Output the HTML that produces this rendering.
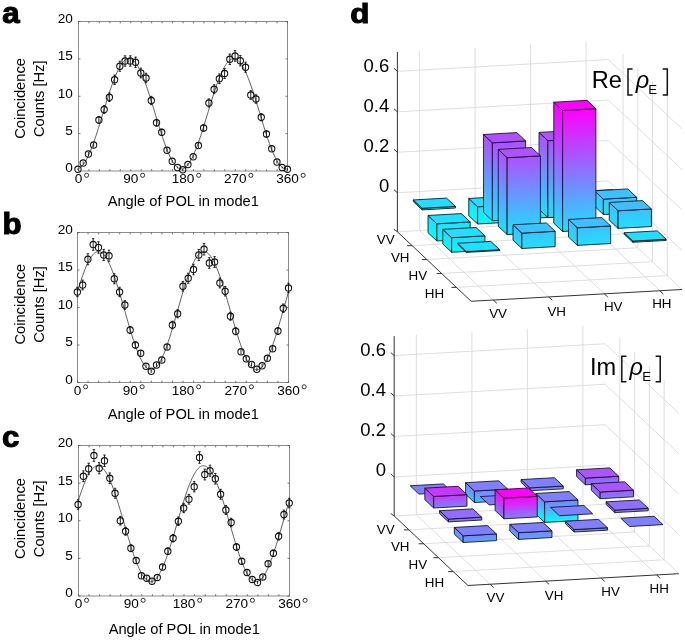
<!DOCTYPE html>
<html><head><meta charset="utf-8"><style>
html,body{margin:0;padding:0;background:#fff;}
svg{display:block;will-change:transform;}
text{font-family:"Liberation Sans", sans-serif;fill:#000;}
</style></head><body>
<svg width="685" height="640" viewBox="0 0 685 640">
<rect width="685" height="640" fill="#fff"/>
<rect x="78.5" y="21.5" width="209.00" height="149.50" fill="none" stroke="#8c8c8c" stroke-width="1.0"/>
<path d="M78.50,171.0v-1.8M78.50,21.5v1.8M88.95,171.0v-1.8M88.95,21.5v1.8M99.40,171.0v-1.8M99.40,21.5v1.8M109.85,171.0v-1.8M109.85,21.5v1.8M120.30,171.0v-1.8M120.30,21.5v1.8M130.75,171.0v-1.8M130.75,21.5v1.8M141.20,171.0v-1.8M141.20,21.5v1.8M151.65,171.0v-1.8M151.65,21.5v1.8M162.10,171.0v-1.8M162.10,21.5v1.8M172.55,171.0v-1.8M172.55,21.5v1.8M183.00,171.0v-1.8M183.00,21.5v1.8M193.45,171.0v-1.8M193.45,21.5v1.8M203.90,171.0v-1.8M203.90,21.5v1.8M214.35,171.0v-1.8M214.35,21.5v1.8M224.80,171.0v-1.8M224.80,21.5v1.8M235.25,171.0v-1.8M235.25,21.5v1.8M245.70,171.0v-1.8M245.70,21.5v1.8M256.15,171.0v-1.8M256.15,21.5v1.8M266.60,171.0v-1.8M266.60,21.5v1.8M277.05,171.0v-1.8M277.05,21.5v1.8M287.50,171.0v-1.8M287.50,21.5v1.8M78.5,171.00h2M287.5,171.00h-2M78.5,133.62h2M287.5,133.62h-2M78.5,96.25h2M287.5,96.25h-2M78.5,58.88h2M287.5,58.88h-2M78.5,21.50h2M287.5,21.50h-2" stroke="#505050" stroke-width="0.8" fill="none"/>
<polyline points="77.95,168.70 78.53,168.51 79.11,168.26 79.70,167.95 80.28,167.56 80.86,167.11 81.44,166.60 82.02,166.02 82.61,165.38 83.19,164.67 83.77,163.90 84.35,163.08 84.93,162.19 85.51,161.24 86.10,160.23 86.68,159.17 87.26,158.05 87.84,156.88 88.42,155.66 89.01,154.38 89.59,153.06 90.17,151.69 90.75,150.27 91.33,148.81 91.92,147.30 92.50,145.75 93.08,144.17 93.66,142.54 94.24,140.89 94.82,139.20 95.41,137.47 95.99,135.72 96.57,133.95 97.15,132.14 97.73,130.32 98.32,128.47 98.90,126.61 99.48,124.73 100.06,122.84 100.64,120.94 101.23,119.03 101.81,117.11 102.39,115.19 102.97,113.26 103.55,111.34 104.14,109.42 104.72,107.50 105.30,105.60 105.88,103.70 106.46,101.81 107.04,99.94 107.63,98.09 108.21,96.26 108.79,94.44 109.37,92.65 109.95,90.89 110.54,89.15 111.12,87.44 111.70,85.77 112.28,84.13 112.86,82.53 113.45,80.96 114.03,79.43 114.61,77.95 115.19,76.51 115.77,75.11 116.35,73.76 116.94,72.47 117.52,71.22 118.10,70.02 118.68,68.87 119.26,67.78 119.85,66.75 120.43,65.78 121.01,64.86 121.59,64.00 122.17,63.20 122.76,62.47 123.34,61.79 123.92,61.18 124.50,60.64 125.08,60.15 125.66,59.74 126.25,59.39 126.83,59.10 127.41,58.89 127.99,58.74 128.57,58.65 129.16,58.64 129.74,58.69 130.32,58.80 130.90,58.99 131.48,59.24 132.07,59.56 132.65,59.94 133.23,60.39 133.81,60.90 134.39,61.48 134.98,62.13 135.56,62.83 136.14,63.60 136.72,64.43 137.30,65.32 137.88,66.26 138.47,67.27 139.05,68.33 139.63,69.45 140.21,70.62 140.79,71.84 141.38,73.12 141.96,74.44 142.54,75.82 143.12,77.23 143.70,78.70 144.29,80.20 144.87,81.75 145.45,83.34 146.03,84.96 146.61,86.62 147.19,88.31 147.78,90.03 148.36,91.78 148.94,93.56 149.52,95.36 150.10,97.18 150.69,99.03 151.27,100.89 151.85,102.77 152.43,104.66 153.01,106.56 153.60,108.48 154.18,110.39 154.76,112.32 155.34,114.24 155.92,116.16 156.50,118.08 157.09,120.00 157.67,121.91 158.25,123.80 158.83,125.69 159.41,127.56 160.00,129.41 160.58,131.25 161.16,133.06 161.74,134.85 162.32,136.62 162.91,138.35 163.49,140.06 164.07,141.73 164.65,143.37 165.23,144.98 165.82,146.54 166.40,148.07 166.98,149.55 167.56,150.99 168.14,152.39 168.72,153.74 169.31,155.04 169.89,156.29 170.47,157.48 171.05,158.63 171.63,159.72 172.22,160.75 172.80,161.73 173.38,162.65 173.96,163.50 174.54,164.30 175.13,165.04 175.71,165.71 176.29,166.32 176.87,166.87 177.45,167.35 178.03,167.76 178.62,168.11 179.20,168.40 179.78,168.62 180.36,168.77 180.94,168.85 181.53,168.87 182.11,168.82 182.69,168.70 183.27,168.51 183.85,168.26 184.44,167.95 185.02,167.56 185.60,167.11 186.18,166.60 186.76,166.02 187.35,165.38 187.93,164.67 188.51,163.90 189.09,163.08 189.67,162.19 190.25,161.24 190.84,160.23 191.42,159.17 192.00,158.05 192.58,156.88 193.16,155.66 193.75,154.38 194.33,153.06 194.91,151.69 195.49,150.27 196.07,148.81 196.66,147.30 197.24,145.75 197.82,144.17 198.40,142.54 198.98,140.89 199.56,139.20 200.15,137.47 200.73,135.72 201.31,133.95 201.89,132.14 202.47,130.32 203.06,128.47 203.64,126.61 204.22,124.73 204.80,122.84 205.38,120.94 205.97,119.03 206.55,117.11 207.13,115.19 207.71,113.26 208.29,111.34 208.88,109.42 209.46,107.50 210.04,105.60 210.62,103.70 211.20,101.81 211.78,99.94 212.37,98.09 212.95,96.26 213.53,94.44 214.11,92.65 214.69,90.89 215.28,89.15 215.86,87.44 216.44,85.77 217.02,84.13 217.60,82.53 218.19,80.96 218.77,79.43 219.35,77.95 219.93,76.51 220.51,75.11 221.09,73.76 221.68,72.47 222.26,71.22 222.84,70.02 223.42,68.87 224.00,67.78 224.59,66.75 225.17,65.78 225.75,64.86 226.33,64.00 226.91,63.20 227.50,62.47 228.08,61.79 228.66,61.18 229.24,60.64 229.82,60.15 230.40,59.74 230.99,59.39 231.57,59.10 232.15,58.89 232.73,58.74 233.31,58.65 233.90,58.64 234.48,58.69 235.06,58.80 235.64,58.99 236.22,59.24 236.81,59.56 237.39,59.94 237.97,60.39 238.55,60.90 239.13,61.48 239.72,62.13 240.30,62.83 240.88,63.60 241.46,64.43 242.04,65.32 242.62,66.26 243.21,67.27 243.79,68.33 244.37,69.45 244.95,70.62 245.53,71.84 246.12,73.12 246.70,74.44 247.28,75.82 247.86,77.23 248.44,78.70 249.03,80.20 249.61,81.75 250.19,83.34 250.77,84.96 251.35,86.62 251.93,88.31 252.52,90.03 253.10,91.78 253.68,93.56 254.26,95.36 254.84,97.18 255.43,99.03 256.01,100.89 256.59,102.77 257.17,104.66 257.75,106.56 258.34,108.48 258.92,110.39 259.50,112.32 260.08,114.24 260.66,116.16 261.25,118.08 261.83,120.00 262.41,121.91 262.99,123.80 263.57,125.69 264.15,127.56 264.74,129.41 265.32,131.25 265.90,133.06 266.48,134.85 267.06,136.62 267.65,138.35 268.23,140.06 268.81,141.73 269.39,143.37 269.97,144.98 270.56,146.54 271.14,148.07 271.72,149.55 272.30,150.99 272.88,152.39 273.46,153.74 274.05,155.04 274.63,156.29 275.21,157.48 275.79,158.63 276.37,159.72 276.96,160.75 277.54,161.73 278.12,162.65 278.70,163.50 279.28,164.30 279.87,165.04 280.45,165.71 281.03,166.32 281.61,166.87 282.19,167.35 282.77,167.76 283.36,168.11 283.94,168.40 284.52,168.62 285.10,168.77 285.68,168.85 286.27,168.87 286.85,168.82 287.43,168.70" fill="none" stroke="#333" stroke-width="0.8"/>
<path d="M77.95,168.51V169.99M83.19,161.60V164.40M88.42,151.96V156.04M93.66,142.48V147.52M98.90,116.47V123.53M97.70,116.47h2.4M97.70,123.53h2.4M104.14,105.63V113.37M102.94,105.63h2.4M102.94,113.37h2.4M109.37,93.01V101.49M108.17,93.01h2.4M108.17,101.49h2.4M114.61,75.03V84.47M113.41,75.03h2.4M113.41,84.47h2.4M119.85,61.20V71.30M118.65,61.20h2.4M118.65,71.30h2.4M125.08,55.82V66.18M123.88,55.82h2.4M123.88,66.18h2.4M130.32,55.82V66.18M129.12,55.82h2.4M129.12,66.18h2.4M135.56,57.10V67.40M134.36,57.10h2.4M134.36,67.40h2.4M140.79,68.11V77.89M139.59,68.11h2.4M139.59,77.89h2.4M146.03,73.24V82.76M144.83,73.24h2.4M144.83,82.76h2.4M151.27,96.35V104.65M150.07,96.35h2.4M150.07,104.65h2.4M156.50,119.32V126.18M155.31,119.32h2.4M155.31,126.18h2.4M161.74,129.18V135.32M160.54,129.18h2.4M160.54,135.32h2.4M166.98,148.00V152.50M172.22,159.71V162.79M177.45,166.58V168.42M182.69,169.01V170.49M187.93,163.24V165.76M193.16,154.89V158.61M198.40,143.01V147.99M203.64,124.76V131.24M202.44,124.76h2.4M202.44,131.24h2.4M208.88,98.93V107.07M207.68,98.93h2.4M207.68,107.07h2.4M214.11,84.79V93.71M212.91,84.79h2.4M212.91,93.71h2.4M219.35,74.01V83.49M218.15,74.01h2.4M218.15,83.49h2.4M224.59,68.62V78.38M223.39,68.62h2.4M223.39,78.38h2.4M229.82,54.03V64.47M228.62,54.03h2.4M228.62,64.47h2.4M235.06,50.70V61.30M233.86,50.70h2.4M233.86,61.30h2.4M240.30,55.57V65.93M239.10,55.57h2.4M239.10,65.93h2.4M245.53,62.22V72.28M244.33,62.22h2.4M244.33,72.28h2.4M250.77,90.70V99.30M249.57,90.70h2.4M249.57,99.30h2.4M256.01,94.81V103.19M254.81,94.81h2.4M254.81,103.19h2.4M261.25,113.63V120.87M260.05,113.63h2.4M260.05,120.87h2.4M266.48,131.00V137.00M265.28,131.00h2.4M265.28,137.00h2.4M271.72,146.42V151.08M276.96,160.52V163.48M282.19,166.58V168.42M287.43,168.51V169.99" stroke="#111" stroke-width="0.9" fill="none"/>
<circle cx="77.95" cy="169.25" r="3.15" fill="none" stroke="#111" stroke-width="1.05"/>
<circle cx="83.19" cy="163.00" r="3.15" fill="none" stroke="#111" stroke-width="1.05"/>
<circle cx="88.42" cy="154.00" r="3.15" fill="none" stroke="#111" stroke-width="1.05"/>
<circle cx="93.66" cy="145.00" r="3.15" fill="none" stroke="#111" stroke-width="1.05"/>
<circle cx="98.90" cy="120.00" r="3.15" fill="none" stroke="#111" stroke-width="1.05"/>
<circle cx="104.14" cy="109.50" r="3.15" fill="none" stroke="#111" stroke-width="1.05"/>
<circle cx="109.37" cy="97.25" r="3.15" fill="none" stroke="#111" stroke-width="1.05"/>
<circle cx="114.61" cy="79.75" r="3.15" fill="none" stroke="#111" stroke-width="1.05"/>
<circle cx="119.85" cy="66.25" r="3.15" fill="none" stroke="#111" stroke-width="1.05"/>
<circle cx="125.08" cy="61.00" r="3.15" fill="none" stroke="#111" stroke-width="1.05"/>
<circle cx="130.32" cy="61.00" r="3.15" fill="none" stroke="#111" stroke-width="1.05"/>
<circle cx="135.56" cy="62.25" r="3.15" fill="none" stroke="#111" stroke-width="1.05"/>
<circle cx="140.79" cy="73.00" r="3.15" fill="none" stroke="#111" stroke-width="1.05"/>
<circle cx="146.03" cy="78.00" r="3.15" fill="none" stroke="#111" stroke-width="1.05"/>
<circle cx="151.27" cy="100.50" r="3.15" fill="none" stroke="#111" stroke-width="1.05"/>
<circle cx="156.50" cy="122.75" r="3.15" fill="none" stroke="#111" stroke-width="1.05"/>
<circle cx="161.74" cy="132.25" r="3.15" fill="none" stroke="#111" stroke-width="1.05"/>
<circle cx="166.98" cy="150.25" r="3.15" fill="none" stroke="#111" stroke-width="1.05"/>
<circle cx="172.22" cy="161.25" r="3.15" fill="none" stroke="#111" stroke-width="1.05"/>
<circle cx="177.45" cy="167.50" r="3.15" fill="none" stroke="#111" stroke-width="1.05"/>
<circle cx="182.69" cy="169.75" r="3.15" fill="none" stroke="#111" stroke-width="1.05"/>
<circle cx="187.93" cy="164.50" r="3.15" fill="none" stroke="#111" stroke-width="1.05"/>
<circle cx="193.16" cy="156.75" r="3.15" fill="none" stroke="#111" stroke-width="1.05"/>
<circle cx="198.40" cy="145.50" r="3.15" fill="none" stroke="#111" stroke-width="1.05"/>
<circle cx="203.64" cy="128.00" r="3.15" fill="none" stroke="#111" stroke-width="1.05"/>
<circle cx="208.88" cy="103.00" r="3.15" fill="none" stroke="#111" stroke-width="1.05"/>
<circle cx="214.11" cy="89.25" r="3.15" fill="none" stroke="#111" stroke-width="1.05"/>
<circle cx="219.35" cy="78.75" r="3.15" fill="none" stroke="#111" stroke-width="1.05"/>
<circle cx="224.59" cy="73.50" r="3.15" fill="none" stroke="#111" stroke-width="1.05"/>
<circle cx="229.82" cy="59.25" r="3.15" fill="none" stroke="#111" stroke-width="1.05"/>
<circle cx="235.06" cy="56.00" r="3.15" fill="none" stroke="#111" stroke-width="1.05"/>
<circle cx="240.30" cy="60.75" r="3.15" fill="none" stroke="#111" stroke-width="1.05"/>
<circle cx="245.53" cy="67.25" r="3.15" fill="none" stroke="#111" stroke-width="1.05"/>
<circle cx="250.77" cy="95.00" r="3.15" fill="none" stroke="#111" stroke-width="1.05"/>
<circle cx="256.01" cy="99.00" r="3.15" fill="none" stroke="#111" stroke-width="1.05"/>
<circle cx="261.25" cy="117.25" r="3.15" fill="none" stroke="#111" stroke-width="1.05"/>
<circle cx="266.48" cy="134.00" r="3.15" fill="none" stroke="#111" stroke-width="1.05"/>
<circle cx="271.72" cy="148.75" r="3.15" fill="none" stroke="#111" stroke-width="1.05"/>
<circle cx="276.96" cy="162.00" r="3.15" fill="none" stroke="#111" stroke-width="1.05"/>
<circle cx="282.19" cy="167.50" r="3.15" fill="none" stroke="#111" stroke-width="1.05"/>
<circle cx="287.43" cy="169.25" r="3.15" fill="none" stroke="#111" stroke-width="1.05"/>
<text x="72.9" y="172.40" font-size="13.6" text-anchor="end">0</text>
<text x="72.9" y="135.03" font-size="13.6" text-anchor="end">5</text>
<text x="72.9" y="97.65" font-size="13.6" text-anchor="end">10</text>
<text x="72.9" y="60.27" font-size="13.6" text-anchor="end">15</text>
<text x="72.9" y="22.90" font-size="13.6" text-anchor="end">20</text>
<text x="78.50" y="183.10" font-size="13.6" text-anchor="middle">0</text>
<circle cx="86.58" cy="175.30" r="2.05" fill="none" stroke="#111" stroke-width="0.85"/>
<text x="130.75" y="183.10" font-size="13.6" text-anchor="middle">90</text>
<circle cx="142.61" cy="175.30" r="2.05" fill="none" stroke="#111" stroke-width="0.85"/>
<text x="183.00" y="183.10" font-size="13.6" text-anchor="middle">180</text>
<circle cx="198.64" cy="175.30" r="2.05" fill="none" stroke="#111" stroke-width="0.85"/>
<text x="235.25" y="183.10" font-size="13.6" text-anchor="middle">270</text>
<circle cx="250.89" cy="175.30" r="2.05" fill="none" stroke="#111" stroke-width="0.85"/>
<text x="287.50" y="183.10" font-size="13.6" text-anchor="middle">360</text>
<circle cx="303.14" cy="175.30" r="2.05" fill="none" stroke="#111" stroke-width="0.85"/>
<text x="183.30" y="205.60" font-size="14.7" text-anchor="middle">Angle of POL in mode1</text>
<text transform="translate(25.4,98.45) rotate(-90)" font-size="14.7" text-anchor="middle">Coincidence</text>
<text transform="translate(44.2,98.75) rotate(-90)" font-size="14.7" text-anchor="middle">Counts [Hz]</text>
<text x="2.2" y="22.6" font-size="29.5" font-weight="bold" stroke="#000" stroke-width="1.1" transform="translate(2.2,0) scale(1.06,1) translate(-2.2,0)">a</text>
<rect x="77.5" y="232.5" width="211.00" height="150.00" fill="none" stroke="#8c8c8c" stroke-width="1.0"/>
<path d="M77.50,382.5v-1.8M77.50,232.5v1.8M88.05,382.5v-1.8M88.05,232.5v1.8M98.60,382.5v-1.8M98.60,232.5v1.8M109.15,382.5v-1.8M109.15,232.5v1.8M119.70,382.5v-1.8M119.70,232.5v1.8M130.25,382.5v-1.8M130.25,232.5v1.8M140.80,382.5v-1.8M140.80,232.5v1.8M151.35,382.5v-1.8M151.35,232.5v1.8M161.90,382.5v-1.8M161.90,232.5v1.8M172.45,382.5v-1.8M172.45,232.5v1.8M183.00,382.5v-1.8M183.00,232.5v1.8M193.55,382.5v-1.8M193.55,232.5v1.8M204.10,382.5v-1.8M204.10,232.5v1.8M214.65,382.5v-1.8M214.65,232.5v1.8M225.20,382.5v-1.8M225.20,232.5v1.8M235.75,382.5v-1.8M235.75,232.5v1.8M246.30,382.5v-1.8M246.30,232.5v1.8M256.85,382.5v-1.8M256.85,232.5v1.8M267.40,382.5v-1.8M267.40,232.5v1.8M277.95,382.5v-1.8M277.95,232.5v1.8M288.50,382.5v-1.8M288.50,232.5v1.8M77.5,382.50h2M288.5,382.50h-2M77.5,345.00h2M288.5,345.00h-2M77.5,307.50h2M288.5,307.50h-2M77.5,270.00h2M288.5,270.00h-2M77.5,232.50h2M288.5,232.50h-2" stroke="#505050" stroke-width="0.8" fill="none"/>
<polyline points="77.35,292.05 77.94,290.10 78.52,288.18 79.11,286.28 79.70,284.42 80.28,282.59 80.87,280.79 81.46,279.02 82.04,277.30 82.63,275.62 83.22,273.98 83.80,272.38 84.39,270.83 84.98,269.33 85.56,267.88 86.15,266.48 86.73,265.14 87.32,263.85 87.91,262.62 88.49,261.45 89.08,260.33 89.67,259.28 90.25,258.29 90.84,257.37 91.43,256.51 92.01,255.71 92.60,254.99 93.19,254.33 93.77,253.74 94.36,253.22 94.95,252.77 95.53,252.39 96.12,252.08 96.71,251.84 97.29,251.67 97.88,251.58 98.47,251.56 99.05,251.61 99.64,251.73 100.23,251.92 100.81,252.19 101.40,252.52 101.99,252.93 102.57,253.41 103.16,253.96 103.74,254.58 104.33,255.26 104.92,256.01 105.50,256.83 106.09,257.72 106.68,258.67 107.26,259.68 107.85,260.76 108.44,261.89 109.02,263.09 109.61,264.34 110.20,265.65 110.78,267.02 111.37,268.44 111.96,269.91 112.54,271.43 113.13,272.99 113.72,274.61 114.30,276.27 114.89,277.96 115.48,279.70 116.06,281.48 116.65,283.29 117.24,285.14 117.82,287.02 118.41,288.92 119.00,290.86 119.58,292.81 120.17,294.79 120.76,296.79 121.34,298.80 121.93,300.83 122.51,302.88 123.10,304.93 123.69,306.99 124.27,309.05 124.86,311.11 125.45,313.18 126.03,315.24 126.62,317.29 127.21,319.34 127.79,321.38 128.38,323.40 128.97,325.41 129.55,327.40 130.14,329.37 130.73,331.32 131.31,333.24 131.90,335.14 132.49,337.00 133.07,338.84 133.66,340.64 134.25,342.40 134.83,344.12 135.42,345.81 136.01,347.45 136.59,349.04 137.18,350.59 137.77,352.09 138.35,353.54 138.94,354.94 139.52,356.28 140.11,357.57 140.70,358.80 141.28,359.98 141.87,361.09 142.46,362.14 143.04,363.13 143.63,364.05 144.22,364.91 144.80,365.71 145.39,366.44 145.98,367.09 146.56,367.68 147.15,368.21 147.74,368.66 148.32,369.04 148.91,369.35 149.50,369.58 150.08,369.75 150.67,369.84 151.26,369.87 151.84,369.82 152.43,369.69 153.02,369.50 153.60,369.23 154.19,368.90 154.78,368.49 155.36,368.01 155.95,367.46 156.53,366.85 157.12,366.16 157.71,365.41 158.29,364.59 158.88,363.70 159.47,362.75 160.05,361.74 160.64,360.66 161.23,359.53 161.81,358.33 162.40,357.08 162.99,355.77 163.57,354.40 164.16,352.98 164.75,351.51 165.33,350.00 165.92,348.43 166.51,346.81 167.09,345.16 167.68,343.46 168.27,341.72 168.85,339.94 169.44,338.13 170.03,336.28 170.61,334.41 171.20,332.50 171.79,330.57 172.37,328.61 172.96,326.63 173.55,324.63 174.13,322.62 174.72,320.59 175.30,318.55 175.89,316.50 176.48,314.44 177.06,312.37 177.65,310.31 178.24,308.25 178.82,306.18 179.41,304.13 180.00,302.08 180.58,300.04 181.17,298.02 181.76,296.01 182.34,294.02 182.93,292.05 183.52,290.10 184.10,288.18 184.69,286.28 185.28,284.42 185.86,282.59 186.45,280.79 187.04,279.02 187.62,277.30 188.21,275.62 188.80,273.98 189.38,272.38 189.97,270.83 190.56,269.33 191.14,267.88 191.73,266.48 192.31,265.14 192.90,263.85 193.49,262.62 194.07,261.45 194.66,260.33 195.25,259.28 195.83,258.29 196.42,257.37 197.01,256.51 197.59,255.71 198.18,254.99 198.77,254.33 199.35,253.74 199.94,253.22 200.53,252.77 201.11,252.39 201.70,252.08 202.29,251.84 202.87,251.67 203.46,251.58 204.05,251.56 204.63,251.61 205.22,251.73 205.81,251.92 206.39,252.19 206.98,252.52 207.57,252.93 208.15,253.41 208.74,253.96 209.32,254.58 209.91,255.26 210.50,256.01 211.08,256.83 211.67,257.72 212.26,258.67 212.84,259.68 213.43,260.76 214.02,261.89 214.60,263.09 215.19,264.34 215.78,265.65 216.36,267.02 216.95,268.44 217.54,269.91 218.12,271.43 218.71,272.99 219.30,274.61 219.88,276.27 220.47,277.96 221.06,279.70 221.64,281.48 222.23,283.29 222.82,285.14 223.40,287.02 223.99,288.92 224.58,290.86 225.16,292.81 225.75,294.79 226.34,296.79 226.92,298.80 227.51,300.83 228.09,302.88 228.68,304.93 229.27,306.99 229.85,309.05 230.44,311.11 231.03,313.18 231.61,315.24 232.20,317.29 232.79,319.34 233.37,321.38 233.96,323.40 234.55,325.41 235.13,327.40 235.72,329.37 236.31,331.32 236.89,333.24 237.48,335.14 238.07,337.00 238.65,338.84 239.24,340.64 239.83,342.40 240.41,344.12 241.00,345.81 241.59,347.45 242.17,349.04 242.76,350.59 243.35,352.09 243.93,353.54 244.52,354.94 245.10,356.28 245.69,357.57 246.28,358.80 246.86,359.98 247.45,361.09 248.04,362.14 248.62,363.13 249.21,364.05 249.80,364.91 250.38,365.71 250.97,366.44 251.56,367.09 252.14,367.68 252.73,368.21 253.32,368.66 253.90,369.04 254.49,369.35 255.08,369.58 255.66,369.75 256.25,369.84 256.84,369.87 257.42,369.82 258.01,369.69 258.60,369.50 259.18,369.23 259.77,368.90 260.36,368.49 260.94,368.01 261.53,367.46 262.12,366.85 262.70,366.16 263.29,365.41 263.87,364.59 264.46,363.70 265.05,362.75 265.63,361.74 266.22,360.66 266.81,359.53 267.39,358.33 267.98,357.08 268.57,355.77 269.15,354.40 269.74,352.98 270.33,351.51 270.91,350.00 271.50,348.43 272.09,346.81 272.67,345.16 273.26,343.46 273.85,341.72 274.43,339.94 275.02,338.13 275.61,336.28 276.19,334.41 276.78,332.50 277.37,330.57 277.95,328.61 278.54,326.63 279.13,324.63 279.71,322.62 280.30,320.59 280.88,318.55 281.47,316.50 282.06,314.44 282.64,312.37 283.23,310.31 283.82,308.25 284.40,306.18 284.99,304.13 285.58,302.08 286.16,300.04 286.75,298.02 287.34,296.01 287.92,294.02 288.51,292.05" fill="none" stroke="#333" stroke-width="0.8"/>
<path d="M77.35,287.31V296.69M76.15,287.31h2.4M76.15,296.69h2.4M82.63,280.13V289.87M81.43,280.13h2.4M81.43,289.87h2.4M87.91,253.78V264.72M86.71,253.78h2.4M86.71,264.72h2.4M93.19,238.71V250.29M91.99,238.71h2.4M91.99,250.29h2.4M98.47,241.77V253.23M97.27,241.77h2.4M97.27,253.23h2.4M103.74,249.43V260.57M102.54,249.43h2.4M102.54,260.57h2.4M109.02,250.20V261.30M107.82,250.20h2.4M107.82,261.30h2.4M114.30,273.73V283.77M113.10,273.73h2.4M113.10,283.77h2.4M119.58,287.31V296.69M118.38,287.31h2.4M118.38,296.69h2.4M124.86,300.66V309.34M123.66,300.66h2.4M123.66,309.34h2.4M130.14,326.43V333.57M128.94,326.43h2.4M128.94,333.57h2.4M135.42,341.98V348.02M134.22,341.98h2.4M134.22,348.02h2.4M140.70,350.58V355.92M145.98,364.26V368.24M151.26,369.60V372.90M156.53,362.94V367.06M161.81,357.66V362.34M167.09,344.06V349.94M172.37,321.26V328.74M171.17,321.26h2.4M171.17,328.74h2.4M177.65,309.66V317.84M176.45,309.66h2.4M176.45,317.84h2.4M182.93,281.41V291.09M181.73,281.41h2.4M181.73,291.09h2.4M188.21,273.22V283.28M187.01,273.22h2.4M187.01,283.28h2.4M193.49,264.26V274.74M192.29,264.26h2.4M192.29,274.74h2.4M198.77,249.43V260.57M197.57,249.43h2.4M197.57,260.57h2.4M204.05,243.56V254.94M202.85,243.56h2.4M202.85,254.94h2.4M209.32,257.61V268.39M208.12,257.61h2.4M208.12,268.39h2.4M214.60,256.59V267.41M213.40,256.59h2.4M213.40,267.41h2.4M219.88,278.08V287.92M218.68,278.08h2.4M218.68,287.92h2.4M225.16,286.54V295.96M223.96,286.54h2.4M223.96,295.96h2.4M230.44,312.24V320.26M229.24,312.24h2.4M229.24,320.26h2.4M235.72,327.72V334.78M234.52,327.72h2.4M234.52,334.78h2.4M241.00,349.02V354.48M246.28,356.35V361.15M251.56,362.41V366.59M256.84,367.46V371.04M262.12,363.73V367.77M267.39,355.82V360.68M272.67,345.89V351.61M277.95,327.46V334.54M276.75,327.46h2.4M276.75,334.54h2.4M283.23,304.00V312.50M282.03,304.00h2.4M282.03,312.50h2.4M288.51,283.21V292.79M287.31,283.21h2.4M287.31,292.79h2.4" stroke="#111" stroke-width="0.9" fill="none"/>
<circle cx="77.35" cy="292.00" r="3.15" fill="none" stroke="#111" stroke-width="1.05"/>
<circle cx="82.63" cy="285.00" r="3.15" fill="none" stroke="#111" stroke-width="1.05"/>
<circle cx="87.91" cy="259.25" r="3.15" fill="none" stroke="#111" stroke-width="1.05"/>
<circle cx="93.19" cy="244.50" r="3.15" fill="none" stroke="#111" stroke-width="1.05"/>
<circle cx="98.47" cy="247.50" r="3.15" fill="none" stroke="#111" stroke-width="1.05"/>
<circle cx="103.74" cy="255.00" r="3.15" fill="none" stroke="#111" stroke-width="1.05"/>
<circle cx="109.02" cy="255.75" r="3.15" fill="none" stroke="#111" stroke-width="1.05"/>
<circle cx="114.30" cy="278.75" r="3.15" fill="none" stroke="#111" stroke-width="1.05"/>
<circle cx="119.58" cy="292.00" r="3.15" fill="none" stroke="#111" stroke-width="1.05"/>
<circle cx="124.86" cy="305.00" r="3.15" fill="none" stroke="#111" stroke-width="1.05"/>
<circle cx="130.14" cy="330.00" r="3.15" fill="none" stroke="#111" stroke-width="1.05"/>
<circle cx="135.42" cy="345.00" r="3.15" fill="none" stroke="#111" stroke-width="1.05"/>
<circle cx="140.70" cy="353.25" r="3.15" fill="none" stroke="#111" stroke-width="1.05"/>
<circle cx="145.98" cy="366.25" r="3.15" fill="none" stroke="#111" stroke-width="1.05"/>
<circle cx="151.26" cy="371.25" r="3.15" fill="none" stroke="#111" stroke-width="1.05"/>
<circle cx="156.53" cy="365.00" r="3.15" fill="none" stroke="#111" stroke-width="1.05"/>
<circle cx="161.81" cy="360.00" r="3.15" fill="none" stroke="#111" stroke-width="1.05"/>
<circle cx="167.09" cy="347.00" r="3.15" fill="none" stroke="#111" stroke-width="1.05"/>
<circle cx="172.37" cy="325.00" r="3.15" fill="none" stroke="#111" stroke-width="1.05"/>
<circle cx="177.65" cy="313.75" r="3.15" fill="none" stroke="#111" stroke-width="1.05"/>
<circle cx="182.93" cy="286.25" r="3.15" fill="none" stroke="#111" stroke-width="1.05"/>
<circle cx="188.21" cy="278.25" r="3.15" fill="none" stroke="#111" stroke-width="1.05"/>
<circle cx="193.49" cy="269.50" r="3.15" fill="none" stroke="#111" stroke-width="1.05"/>
<circle cx="198.77" cy="255.00" r="3.15" fill="none" stroke="#111" stroke-width="1.05"/>
<circle cx="204.05" cy="249.25" r="3.15" fill="none" stroke="#111" stroke-width="1.05"/>
<circle cx="209.32" cy="263.00" r="3.15" fill="none" stroke="#111" stroke-width="1.05"/>
<circle cx="214.60" cy="262.00" r="3.15" fill="none" stroke="#111" stroke-width="1.05"/>
<circle cx="219.88" cy="283.00" r="3.15" fill="none" stroke="#111" stroke-width="1.05"/>
<circle cx="225.16" cy="291.25" r="3.15" fill="none" stroke="#111" stroke-width="1.05"/>
<circle cx="230.44" cy="316.25" r="3.15" fill="none" stroke="#111" stroke-width="1.05"/>
<circle cx="235.72" cy="331.25" r="3.15" fill="none" stroke="#111" stroke-width="1.05"/>
<circle cx="241.00" cy="351.75" r="3.15" fill="none" stroke="#111" stroke-width="1.05"/>
<circle cx="246.28" cy="358.75" r="3.15" fill="none" stroke="#111" stroke-width="1.05"/>
<circle cx="251.56" cy="364.50" r="3.15" fill="none" stroke="#111" stroke-width="1.05"/>
<circle cx="256.84" cy="369.25" r="3.15" fill="none" stroke="#111" stroke-width="1.05"/>
<circle cx="262.12" cy="365.75" r="3.15" fill="none" stroke="#111" stroke-width="1.05"/>
<circle cx="267.39" cy="358.25" r="3.15" fill="none" stroke="#111" stroke-width="1.05"/>
<circle cx="272.67" cy="348.75" r="3.15" fill="none" stroke="#111" stroke-width="1.05"/>
<circle cx="277.95" cy="331.00" r="3.15" fill="none" stroke="#111" stroke-width="1.05"/>
<circle cx="283.23" cy="308.25" r="3.15" fill="none" stroke="#111" stroke-width="1.05"/>
<circle cx="288.51" cy="288.00" r="3.15" fill="none" stroke="#111" stroke-width="1.05"/>
<text x="72.9" y="383.90" font-size="13.6" text-anchor="end">0</text>
<text x="72.9" y="346.40" font-size="13.6" text-anchor="end">5</text>
<text x="72.9" y="308.90" font-size="13.6" text-anchor="end">10</text>
<text x="72.9" y="271.40" font-size="13.6" text-anchor="end">15</text>
<text x="72.9" y="233.90" font-size="13.6" text-anchor="end">20</text>
<text x="77.50" y="394.60" font-size="13.6" text-anchor="middle">0</text>
<circle cx="85.58" cy="386.80" r="2.05" fill="none" stroke="#111" stroke-width="0.85"/>
<text x="130.25" y="394.60" font-size="13.6" text-anchor="middle">90</text>
<circle cx="142.11" cy="386.80" r="2.05" fill="none" stroke="#111" stroke-width="0.85"/>
<text x="183.00" y="394.60" font-size="13.6" text-anchor="middle">180</text>
<circle cx="198.64" cy="386.80" r="2.05" fill="none" stroke="#111" stroke-width="0.85"/>
<text x="235.75" y="394.60" font-size="13.6" text-anchor="middle">270</text>
<circle cx="251.39" cy="386.80" r="2.05" fill="none" stroke="#111" stroke-width="0.85"/>
<text x="288.50" y="394.60" font-size="13.6" text-anchor="middle">360</text>
<circle cx="304.14" cy="386.80" r="2.05" fill="none" stroke="#111" stroke-width="0.85"/>
<text x="183.30" y="418.60" font-size="14.7" text-anchor="middle">Angle of POL in mode1</text>
<text transform="translate(25.4,304.20) rotate(-90)" font-size="14.7" text-anchor="middle">Coincidence</text>
<text transform="translate(44.2,304.50) rotate(-90)" font-size="14.7" text-anchor="middle">Counts [Hz]</text>
<text x="2.4" y="233.7" font-size="29.5" font-weight="bold" stroke="#000" stroke-width="1.1" transform="translate(2.4,0) scale(1.06,1) translate(-2.4,0)">b</text>
<rect x="78.5" y="445.5" width="211.00" height="150.50" fill="none" stroke="#8c8c8c" stroke-width="1.0"/>
<path d="M78.50,596.0v-1.8M78.50,445.5v1.8M89.05,596.0v-1.8M89.05,445.5v1.8M99.60,596.0v-1.8M99.60,445.5v1.8M110.15,596.0v-1.8M110.15,445.5v1.8M120.70,596.0v-1.8M120.70,445.5v1.8M131.25,596.0v-1.8M131.25,445.5v1.8M141.80,596.0v-1.8M141.80,445.5v1.8M152.35,596.0v-1.8M152.35,445.5v1.8M162.90,596.0v-1.8M162.90,445.5v1.8M173.45,596.0v-1.8M173.45,445.5v1.8M184.00,596.0v-1.8M184.00,445.5v1.8M194.55,596.0v-1.8M194.55,445.5v1.8M205.10,596.0v-1.8M205.10,445.5v1.8M215.65,596.0v-1.8M215.65,445.5v1.8M226.20,596.0v-1.8M226.20,445.5v1.8M236.75,596.0v-1.8M236.75,445.5v1.8M247.30,596.0v-1.8M247.30,445.5v1.8M257.85,596.0v-1.8M257.85,445.5v1.8M268.40,596.0v-1.8M268.40,445.5v1.8M278.95,596.0v-1.8M278.95,445.5v1.8M289.50,596.0v-1.8M289.50,445.5v1.8M78.5,596.00h2M289.5,596.00h-2M78.5,558.38h2M289.5,558.38h-2M78.5,520.75h2M289.5,520.75h-2M78.5,483.12h2M289.5,483.12h-2M78.5,445.50h2M289.5,445.50h-2" stroke="#505050" stroke-width="0.8" fill="none"/>
<polyline points="78.10,501.33 78.69,499.48 79.27,497.65 79.86,495.86 80.45,494.10 81.03,492.38 81.62,490.70 82.21,489.05 82.79,487.45 83.38,485.89 83.96,484.38 84.55,482.92 85.14,481.51 85.72,480.15 86.31,478.84 86.90,477.58 87.48,476.38 88.07,475.24 88.66,474.16 89.24,473.14 89.83,472.18 90.42,471.29 91.00,470.45 91.59,469.69 92.17,468.98 92.76,468.35 93.35,467.78 93.93,467.28 94.52,466.85 95.11,466.49 95.69,466.20 96.28,465.97 96.87,465.82 97.45,465.74 98.04,465.73 98.63,465.79 99.21,465.92 99.80,466.12 100.38,466.39 100.97,466.73 101.56,467.14 102.14,467.62 102.73,468.17 103.32,468.79 103.90,469.47 104.49,470.22 105.08,471.03 105.66,471.91 106.25,472.85 106.84,473.85 107.42,474.92 108.01,476.04 108.60,477.22 109.18,478.46 109.77,479.75 110.35,481.10 110.94,482.49 111.53,483.94 112.11,485.44 112.70,486.98 113.29,488.57 113.87,490.20 114.46,491.87 115.05,493.59 115.63,495.33 116.22,497.11 116.81,498.93 117.39,500.77 117.98,502.65 118.56,504.54 119.15,506.46 119.74,508.41 120.32,510.37 120.91,512.35 121.50,514.34 122.08,516.34 122.67,518.35 123.26,520.37 123.84,522.39 124.43,524.41 125.02,526.44 125.60,528.46 126.19,530.47 126.77,532.48 127.36,534.47 127.95,536.45 128.53,538.42 129.12,540.37 129.71,542.29 130.29,544.20 130.88,546.08 131.47,547.93 132.05,549.76 132.64,551.55 133.23,553.31 133.81,555.03 134.40,556.71 134.99,558.36 135.57,559.96 136.16,561.51 136.74,563.02 137.33,564.49 137.92,565.90 138.50,567.26 139.09,568.57 139.68,569.83 140.26,571.02 140.85,572.16 141.44,573.25 142.02,574.27 142.61,575.23 143.20,576.12 143.78,576.96 144.37,577.72 144.95,578.43 145.54,579.06 146.13,579.63 146.71,580.13 147.30,580.56 147.89,580.92 148.47,581.21 149.06,581.44 149.65,581.59 150.23,581.67 150.82,581.68 151.41,581.62 151.99,581.49 152.58,581.29 153.16,581.02 153.75,580.67 154.34,580.26 154.92,579.78 155.51,579.24 156.10,578.62 156.68,577.94 157.27,577.19 157.86,576.38 158.44,575.50 159.03,574.56 159.62,573.56 160.20,572.49 160.79,571.37 161.38,570.19 161.96,568.95 162.55,567.66 163.13,566.31 163.72,564.91 164.31,563.47 164.89,561.97 165.48,560.43 166.07,558.84 166.65,557.21 167.24,555.53 167.83,553.82 168.41,552.08 169.00,550.29 169.59,548.48 170.17,546.64 170.76,544.76 171.34,542.87 171.93,540.94 172.52,539.00 173.10,537.04 173.69,535.06 174.28,533.07 174.86,531.07 175.45,529.06 176.04,527.04 176.62,525.02 177.21,522.99 177.80,520.97 178.38,518.95 178.97,516.94 179.55,514.93 180.14,512.94 180.73,510.96 181.31,508.99 181.90,507.04 182.49,505.11 183.07,503.21 183.66,501.33 184.25,499.48 184.83,497.65 185.42,495.86 186.01,494.10 186.59,492.38 187.18,490.70 187.77,489.05 188.35,487.45 188.94,485.89 189.52,484.38 190.11,482.92 190.70,481.51 191.28,480.15 191.87,478.84 192.46,477.58 193.04,476.38 193.63,475.24 194.22,474.16 194.80,473.14 195.39,472.18 195.98,471.29 196.56,470.45 197.15,469.69 197.73,468.98 198.32,468.35 198.91,467.78 199.49,467.28 200.08,466.85 200.67,466.49 201.25,466.20 201.84,465.97 202.43,465.82 203.01,465.74 203.60,465.73 204.19,465.79 204.77,465.92 205.36,466.12 205.94,466.39 206.53,466.73 207.12,467.14 207.70,467.62 208.29,468.17 208.88,468.79 209.46,469.47 210.05,470.22 210.64,471.03 211.22,471.91 211.81,472.85 212.40,473.85 212.98,474.92 213.57,476.04 214.16,477.22 214.74,478.46 215.33,479.75 215.91,481.10 216.50,482.49 217.09,483.94 217.67,485.44 218.26,486.98 218.85,488.57 219.43,490.20 220.02,491.87 220.61,493.59 221.19,495.33 221.78,497.11 222.37,498.93 222.95,500.77 223.54,502.65 224.12,504.54 224.71,506.46 225.30,508.41 225.88,510.37 226.47,512.35 227.06,514.34 227.64,516.34 228.23,518.35 228.82,520.37 229.40,522.39 229.99,524.41 230.58,526.44 231.16,528.46 231.75,530.47 232.33,532.48 232.92,534.47 233.51,536.45 234.09,538.42 234.68,540.37 235.27,542.29 235.85,544.20 236.44,546.08 237.03,547.93 237.61,549.76 238.20,551.55 238.79,553.31 239.37,555.03 239.96,556.71 240.55,558.36 241.13,559.96 241.72,561.51 242.30,563.02 242.89,564.49 243.48,565.90 244.06,567.26 244.65,568.57 245.24,569.83 245.82,571.02 246.41,572.16 247.00,573.25 247.58,574.27 248.17,575.23 248.76,576.12 249.34,576.96 249.93,577.72 250.51,578.43 251.10,579.06 251.69,579.63 252.27,580.13 252.86,580.56 253.45,580.92 254.03,581.21 254.62,581.44 255.21,581.59 255.79,581.67 256.38,581.68 256.97,581.62 257.55,581.49 258.14,581.29 258.72,581.02 259.31,580.67 259.90,580.26 260.48,579.78 261.07,579.24 261.66,578.62 262.24,577.94 262.83,577.19 263.42,576.38 264.00,575.50 264.59,574.56 265.18,573.56 265.76,572.49 266.35,571.37 266.94,570.19 267.52,568.95 268.11,567.66 268.69,566.31 269.28,564.91 269.87,563.47 270.45,561.97 271.04,560.43 271.63,558.84 272.21,557.21 272.80,555.53 273.39,553.82 273.97,552.08 274.56,550.29 275.15,548.48 275.73,546.64 276.32,544.76 276.90,542.87 277.49,540.94 278.08,539.00 278.66,537.04 279.25,535.06 279.84,533.07 280.42,531.07 281.01,529.06 281.60,527.04 282.18,525.02 282.77,522.99 283.36,520.97 283.94,518.95 284.53,516.94 285.11,514.93 285.70,512.94 286.29,510.96 286.87,508.99 287.46,507.04 288.05,505.11 288.63,503.21 289.22,501.33" fill="none" stroke="#333" stroke-width="0.8"/>
<path d="M78.10,499.79V509.21M76.90,499.79h2.4M76.90,509.21h2.4M83.38,470.86V481.64M82.18,470.86h2.4M82.18,481.64h2.4M88.66,463.20V474.30M87.46,463.20h2.4M87.46,474.30h2.4M93.93,449.67V461.33M92.73,449.67h2.4M92.73,461.33h2.4M99.21,462.69V473.81M98.01,462.69h2.4M98.01,473.81h2.4M104.49,455.03V466.47M103.29,455.03h2.4M103.29,466.47h2.4M109.77,472.91V483.59M108.57,472.91h2.4M108.57,483.59h2.4M115.05,488.26V498.24M113.85,488.26h2.4M113.85,498.24h2.4M120.32,516.48V525.02M119.12,516.48h2.4M119.12,525.02h2.4M125.60,527.29V535.21M124.40,527.29h2.4M124.40,535.21h2.4M130.88,544.85V551.65M129.68,544.85h2.4M129.68,551.65h2.4M136.16,557.57V563.43M141.44,573.54V577.96M146.71,576.18V580.32M151.99,579.36V583.14M157.27,575.38V579.62M162.55,564.35V569.65M167.83,547.96V554.54M166.63,547.96h2.4M166.63,554.54h2.4M173.10,534.51V541.99M171.90,534.51h2.4M171.90,541.99h2.4M178.38,517.00V525.50M177.18,517.00h2.4M177.18,525.50h2.4M183.66,503.38V512.62M182.46,503.38h2.4M182.46,512.62h2.4M188.94,494.41V504.09M187.74,494.41h2.4M187.74,504.09h2.4M194.22,481.61V491.89M193.02,481.61h2.4M193.02,491.89h2.4M199.49,451.71V463.29M198.29,451.71h2.4M198.29,463.29h2.4M204.77,469.08V479.92M203.57,469.08h2.4M203.57,479.92h2.4M210.05,465.24V476.26M208.85,465.24h2.4M208.85,476.26h2.4M215.33,473.42V484.08M214.13,473.42h2.4M214.13,484.08h2.4M220.61,489.29V499.21M219.41,489.29h2.4M219.41,499.21h2.4M225.88,505.44V514.56M224.68,505.44h2.4M224.68,514.56h2.4M231.16,518.28V526.72M229.96,518.28h2.4M229.96,526.72h2.4M236.44,543.56V550.44M235.24,543.56h2.4M235.24,550.44h2.4M241.72,558.35V564.15M247.00,570.11V574.89M252.27,577.50V581.50M257.55,580.69V584.31M262.83,574.85V579.15M268.11,560.96V566.54M273.39,550.03V556.47M272.19,550.03h2.4M272.19,556.47h2.4M278.66,532.45V540.05M277.46,532.45h2.4M277.46,540.05h2.4M283.94,510.06V518.94M282.74,510.06h2.4M282.74,518.94h2.4M289.22,498.25V507.75M288.02,498.25h2.4M288.02,507.75h2.4" stroke="#111" stroke-width="0.9" fill="none"/>
<circle cx="78.10" cy="504.50" r="3.15" fill="none" stroke="#111" stroke-width="1.05"/>
<circle cx="83.38" cy="476.25" r="3.15" fill="none" stroke="#111" stroke-width="1.05"/>
<circle cx="88.66" cy="468.75" r="3.15" fill="none" stroke="#111" stroke-width="1.05"/>
<circle cx="93.93" cy="455.50" r="3.15" fill="none" stroke="#111" stroke-width="1.05"/>
<circle cx="99.21" cy="468.25" r="3.15" fill="none" stroke="#111" stroke-width="1.05"/>
<circle cx="104.49" cy="460.75" r="3.15" fill="none" stroke="#111" stroke-width="1.05"/>
<circle cx="109.77" cy="478.25" r="3.15" fill="none" stroke="#111" stroke-width="1.05"/>
<circle cx="115.05" cy="493.25" r="3.15" fill="none" stroke="#111" stroke-width="1.05"/>
<circle cx="120.32" cy="520.75" r="3.15" fill="none" stroke="#111" stroke-width="1.05"/>
<circle cx="125.60" cy="531.25" r="3.15" fill="none" stroke="#111" stroke-width="1.05"/>
<circle cx="130.88" cy="548.25" r="3.15" fill="none" stroke="#111" stroke-width="1.05"/>
<circle cx="136.16" cy="560.50" r="3.15" fill="none" stroke="#111" stroke-width="1.05"/>
<circle cx="141.44" cy="575.75" r="3.15" fill="none" stroke="#111" stroke-width="1.05"/>
<circle cx="146.71" cy="578.25" r="3.15" fill="none" stroke="#111" stroke-width="1.05"/>
<circle cx="151.99" cy="581.25" r="3.15" fill="none" stroke="#111" stroke-width="1.05"/>
<circle cx="157.27" cy="577.50" r="3.15" fill="none" stroke="#111" stroke-width="1.05"/>
<circle cx="162.55" cy="567.00" r="3.15" fill="none" stroke="#111" stroke-width="1.05"/>
<circle cx="167.83" cy="551.25" r="3.15" fill="none" stroke="#111" stroke-width="1.05"/>
<circle cx="173.10" cy="538.25" r="3.15" fill="none" stroke="#111" stroke-width="1.05"/>
<circle cx="178.38" cy="521.25" r="3.15" fill="none" stroke="#111" stroke-width="1.05"/>
<circle cx="183.66" cy="508.00" r="3.15" fill="none" stroke="#111" stroke-width="1.05"/>
<circle cx="188.94" cy="499.25" r="3.15" fill="none" stroke="#111" stroke-width="1.05"/>
<circle cx="194.22" cy="486.75" r="3.15" fill="none" stroke="#111" stroke-width="1.05"/>
<circle cx="199.49" cy="457.50" r="3.15" fill="none" stroke="#111" stroke-width="1.05"/>
<circle cx="204.77" cy="474.50" r="3.15" fill="none" stroke="#111" stroke-width="1.05"/>
<circle cx="210.05" cy="470.75" r="3.15" fill="none" stroke="#111" stroke-width="1.05"/>
<circle cx="215.33" cy="478.75" r="3.15" fill="none" stroke="#111" stroke-width="1.05"/>
<circle cx="220.61" cy="494.25" r="3.15" fill="none" stroke="#111" stroke-width="1.05"/>
<circle cx="225.88" cy="510.00" r="3.15" fill="none" stroke="#111" stroke-width="1.05"/>
<circle cx="231.16" cy="522.50" r="3.15" fill="none" stroke="#111" stroke-width="1.05"/>
<circle cx="236.44" cy="547.00" r="3.15" fill="none" stroke="#111" stroke-width="1.05"/>
<circle cx="241.72" cy="561.25" r="3.15" fill="none" stroke="#111" stroke-width="1.05"/>
<circle cx="247.00" cy="572.50" r="3.15" fill="none" stroke="#111" stroke-width="1.05"/>
<circle cx="252.27" cy="579.50" r="3.15" fill="none" stroke="#111" stroke-width="1.05"/>
<circle cx="257.55" cy="582.50" r="3.15" fill="none" stroke="#111" stroke-width="1.05"/>
<circle cx="262.83" cy="577.00" r="3.15" fill="none" stroke="#111" stroke-width="1.05"/>
<circle cx="268.11" cy="563.75" r="3.15" fill="none" stroke="#111" stroke-width="1.05"/>
<circle cx="273.39" cy="553.25" r="3.15" fill="none" stroke="#111" stroke-width="1.05"/>
<circle cx="278.66" cy="536.25" r="3.15" fill="none" stroke="#111" stroke-width="1.05"/>
<circle cx="283.94" cy="514.50" r="3.15" fill="none" stroke="#111" stroke-width="1.05"/>
<circle cx="289.22" cy="503.00" r="3.15" fill="none" stroke="#111" stroke-width="1.05"/>
<text x="72.9" y="597.40" font-size="13.6" text-anchor="end">0</text>
<text x="72.9" y="559.77" font-size="13.6" text-anchor="end">5</text>
<text x="72.9" y="522.15" font-size="13.6" text-anchor="end">10</text>
<text x="72.9" y="484.52" font-size="13.6" text-anchor="end">15</text>
<text x="72.9" y="446.90" font-size="13.6" text-anchor="end">20</text>
<text x="78.50" y="608.10" font-size="13.6" text-anchor="middle">0</text>
<circle cx="86.58" cy="600.30" r="2.05" fill="none" stroke="#111" stroke-width="0.85"/>
<text x="131.25" y="608.10" font-size="13.6" text-anchor="middle">90</text>
<circle cx="143.11" cy="600.30" r="2.05" fill="none" stroke="#111" stroke-width="0.85"/>
<text x="184.00" y="608.10" font-size="13.6" text-anchor="middle">180</text>
<circle cx="199.64" cy="600.30" r="2.05" fill="none" stroke="#111" stroke-width="0.85"/>
<text x="236.75" y="608.10" font-size="13.6" text-anchor="middle">270</text>
<circle cx="252.39" cy="600.30" r="2.05" fill="none" stroke="#111" stroke-width="0.85"/>
<text x="289.50" y="608.10" font-size="13.6" text-anchor="middle">360</text>
<circle cx="305.14" cy="600.30" r="2.05" fill="none" stroke="#111" stroke-width="0.85"/>
<text x="184.30" y="633.60" font-size="14.7" text-anchor="middle">Angle of POL in mode1</text>
<text transform="translate(25.4,518.50) rotate(-90)" font-size="14.7" text-anchor="middle">Coincidence</text>
<text transform="translate(44.2,518.80) rotate(-90)" font-size="14.7" text-anchor="middle">Counts [Hz]</text>
<text x="2.0" y="446.6" font-size="29.5" font-weight="bold" stroke="#000" stroke-width="1.1" transform="translate(2.0,0) scale(1.06,1) translate(-2.0,0)">c</text>
<path d="M419.60,230.54L419.60,50.70M419.60,230.54L493.35,300.04M475.10,227.44L475.10,47.60M475.10,227.44L548.85,296.94M530.60,224.34L530.60,44.50M530.60,224.34L604.35,293.84M586.10,221.24L586.10,41.40M586.10,221.24L659.85,290.74M623.05,233.90L623.05,54.06M412.15,245.68L623.05,233.90M637.80,247.80L637.80,67.96M426.90,259.58L637.80,247.80M652.55,261.70L652.55,81.86M441.65,273.48L652.55,261.70M667.30,275.60L667.30,95.76M456.40,287.38L667.30,275.60M397.40,192.74L608.30,180.96M608.30,180.96L682.05,250.46M397.40,152.28L608.30,140.50M608.30,140.50L682.05,210.00M397.40,111.82L608.30,100.04M608.30,100.04L682.05,169.54M397.40,71.36L608.30,59.58M608.30,59.58L682.05,129.08M397.40,231.78L608.30,220.00M608.30,220.00L682.05,289.50" stroke="#d6d6d6" stroke-width="0.8" fill="none"/>
<path d="M397.40,231.78L397.40,51.94M397.40,231.78L471.15,301.28M471.15,301.28L682.05,289.50M397.40,192.74l-3.4,-3.0M397.40,152.28l-3.4,-3.0M397.40,111.82l-3.4,-3.0M397.40,71.36l-3.4,-3.0M412.15,245.68h-5M426.90,259.58h-5M441.65,273.48h-5M456.40,287.38h-5M397.40,231.78l-3.5,-2.5M493.35,300.04l3.5,3.3M548.85,296.94l3.5,3.3M604.35,293.84l3.5,3.3M659.85,290.74l3.5,3.3" stroke="#333" stroke-width="1" fill="none"/>
<linearGradient id="g1" gradientUnits="userSpaceOnUse" x1="579.78" y1="192.26" x2="580.18" y2="191.83"><stop offset="0" stop-color="#20dfff"/><stop offset="1" stop-color="#21deff"/></linearGradient>
<polygon points="579.78,192.26 588.62,200.60 588.62,199.79 579.78,191.45" fill="url(#g1)" stroke="#111" stroke-width="0.85" stroke-linejoin="round"/>
<linearGradient id="g2" gradientUnits="userSpaceOnUse" x1="588.62" y1="200.60" x2="588.58" y2="199.79"><stop offset="0" stop-color="#20dfff"/><stop offset="1" stop-color="#21deff"/></linearGradient>
<polygon points="588.62,200.60 621.92,198.74 621.92,197.93 588.62,199.79" fill="url(#g2)" stroke="#111" stroke-width="0.85" stroke-linejoin="round"/>
<polygon points="579.78,191.45 613.08,189.59 621.92,197.93 588.62,199.79" fill="#21deff" stroke="#111" stroke-width="0.85" stroke-linejoin="round"/>
<linearGradient id="g3" gradientUnits="userSpaceOnUse" x1="524.28" y1="209.93" x2="531.54" y2="202.21"><stop offset="0" stop-color="#05faff"/><stop offset="1" stop-color="#20dfff"/></linearGradient>
<polygon points="524.28,209.93 533.12,218.27 533.12,203.70 524.28,195.36" fill="url(#g3)" stroke="#111" stroke-width="0.85" stroke-linejoin="round"/>
<linearGradient id="g4" gradientUnits="userSpaceOnUse" x1="533.12" y1="218.27" x2="532.31" y2="203.75"><stop offset="0" stop-color="#05faff"/><stop offset="1" stop-color="#20dfff"/></linearGradient>
<polygon points="533.12,218.27 566.42,216.41 566.42,201.84 533.12,203.70" fill="url(#g4)" stroke="#111" stroke-width="0.85" stroke-linejoin="round"/>
<polygon points="524.28,195.36 557.58,193.50 566.42,201.84 533.12,203.70" fill="#20dfff" stroke="#111" stroke-width="0.85" stroke-linejoin="round"/>
<linearGradient id="g5" gradientUnits="userSpaceOnUse" x1="468.78" y1="215.66" x2="477.36" y2="206.55"><stop offset="0" stop-color="#00ffff"/><stop offset="1" stop-color="#20dfff"/></linearGradient>
<polygon points="468.78,215.66 477.63,224.00 477.63,206.80 468.78,198.46" fill="url(#g5)" stroke="#111" stroke-width="0.85" stroke-linejoin="round"/>
<linearGradient id="g6" gradientUnits="userSpaceOnUse" x1="477.63" y1="224.00" x2="476.67" y2="206.85"><stop offset="0" stop-color="#00ffff"/><stop offset="1" stop-color="#20dfff"/></linearGradient>
<polygon points="477.63,224.00 510.93,222.14 510.93,204.94 477.63,206.80" fill="url(#g6)" stroke="#111" stroke-width="0.85" stroke-linejoin="round"/>
<polygon points="468.78,198.46 502.07,196.60 510.93,204.94 477.63,206.80" fill="#20dfff" stroke="#111" stroke-width="0.85" stroke-linejoin="round"/>
<linearGradient id="g7" gradientUnits="userSpaceOnUse" x1="413.28" y1="201.56" x2="414.08" y2="200.70"><stop offset="0" stop-color="#20dfff"/><stop offset="1" stop-color="#23dcff"/></linearGradient>
<polygon points="413.28,201.56 422.13,209.90 422.13,208.28 413.28,199.94" fill="url(#g7)" stroke="#111" stroke-width="0.85" stroke-linejoin="round"/>
<linearGradient id="g8" gradientUnits="userSpaceOnUse" x1="422.13" y1="209.90" x2="422.03" y2="208.29"><stop offset="0" stop-color="#20dfff"/><stop offset="1" stop-color="#23dcff"/></linearGradient>
<polygon points="422.13,209.90 455.43,208.04 455.43,206.42 422.13,208.28" fill="url(#g8)" stroke="#111" stroke-width="0.85" stroke-linejoin="round"/>
<polygon points="413.28,199.94 446.57,198.08 455.43,206.42 422.13,208.28" fill="#23dcff" stroke="#111" stroke-width="0.85" stroke-linejoin="round"/>
<linearGradient id="g9" gradientUnits="userSpaceOnUse" x1="594.53" y1="206.16" x2="602.20" y2="198.02"><stop offset="0" stop-color="#20dfff"/><stop offset="1" stop-color="#3cc3ff"/></linearGradient>
<polygon points="594.53,206.16 603.38,214.50 603.38,199.13 594.53,190.79" fill="url(#g9)" stroke="#111" stroke-width="0.85" stroke-linejoin="round"/>
<linearGradient id="g10" gradientUnits="userSpaceOnUse" x1="603.38" y1="214.50" x2="602.52" y2="199.17"><stop offset="0" stop-color="#20dfff"/><stop offset="1" stop-color="#3cc3ff"/></linearGradient>
<polygon points="603.38,214.50 636.67,212.64 636.67,197.27 603.38,199.13" fill="url(#g10)" stroke="#111" stroke-width="0.85" stroke-linejoin="round"/>
<polygon points="594.53,190.79 627.83,188.93 636.67,197.27 603.38,199.13" fill="#3cc3ff" stroke="#111" stroke-width="0.85" stroke-linejoin="round"/>
<linearGradient id="g11" gradientUnits="userSpaceOnUse" x1="539.03" y1="209.26" x2="577.39" y2="168.54"><stop offset="0" stop-color="#20dfff"/><stop offset="1" stop-color="#ae51ff"/></linearGradient>
<polygon points="539.03,209.26 547.88,217.60 547.88,140.73 539.03,132.39" fill="url(#g11)" stroke="#111" stroke-width="0.85" stroke-linejoin="round"/>
<linearGradient id="g12" gradientUnits="userSpaceOnUse" x1="547.88" y1="217.60" x2="543.59" y2="140.97"><stop offset="0" stop-color="#20dfff"/><stop offset="1" stop-color="#ae51ff"/></linearGradient>
<polygon points="547.88,217.60 581.17,215.74 581.17,138.87 547.88,140.73" fill="url(#g12)" stroke="#111" stroke-width="0.85" stroke-linejoin="round"/>
<polygon points="539.03,132.39 572.33,130.53 581.17,138.87 547.88,140.73" fill="#ae51ff" stroke="#111" stroke-width="0.85" stroke-linejoin="round"/>
<linearGradient id="g13" gradientUnits="userSpaceOnUse" x1="483.53" y1="212.36" x2="522.40" y2="171.11"><stop offset="0" stop-color="#20dfff"/><stop offset="1" stop-color="#af50ff"/></linearGradient>
<polygon points="483.53,212.36 492.38,220.70 492.38,142.81 483.53,134.47" fill="url(#g13)" stroke="#111" stroke-width="0.85" stroke-linejoin="round"/>
<linearGradient id="g14" gradientUnits="userSpaceOnUse" x1="492.38" y1="220.70" x2="488.04" y2="143.06"><stop offset="0" stop-color="#20dfff"/><stop offset="1" stop-color="#af50ff"/></linearGradient>
<polygon points="492.38,220.70 525.67,218.84 525.67,140.95 492.38,142.81" fill="url(#g14)" stroke="#111" stroke-width="0.85" stroke-linejoin="round"/>
<polygon points="483.53,134.47 516.83,132.61 525.67,140.95 492.38,142.81" fill="#af50ff" stroke="#111" stroke-width="0.85" stroke-linejoin="round"/>
<linearGradient id="g15" gradientUnits="userSpaceOnUse" x1="428.03" y1="232.66" x2="436.61" y2="223.55"><stop offset="0" stop-color="#00ffff"/><stop offset="1" stop-color="#20dfff"/></linearGradient>
<polygon points="428.03,232.66 436.88,241.00 436.88,223.80 428.03,215.46" fill="url(#g15)" stroke="#111" stroke-width="0.85" stroke-linejoin="round"/>
<linearGradient id="g16" gradientUnits="userSpaceOnUse" x1="436.88" y1="241.00" x2="435.92" y2="223.85"><stop offset="0" stop-color="#00ffff"/><stop offset="1" stop-color="#20dfff"/></linearGradient>
<polygon points="436.88,241.00 470.18,239.14 470.18,221.94 436.88,223.80" fill="url(#g16)" stroke="#111" stroke-width="0.85" stroke-linejoin="round"/>
<polygon points="428.03,215.46 461.32,213.60 470.18,221.94 436.88,223.80" fill="#20dfff" stroke="#111" stroke-width="0.85" stroke-linejoin="round"/>
<linearGradient id="g17" gradientUnits="userSpaceOnUse" x1="609.28" y1="220.06" x2="618.06" y2="210.74"><stop offset="0" stop-color="#20dfff"/><stop offset="1" stop-color="#40bfff"/></linearGradient>
<polygon points="609.28,220.06 618.12,228.40 618.12,210.80 609.28,202.46" fill="url(#g17)" stroke="#111" stroke-width="0.85" stroke-linejoin="round"/>
<linearGradient id="g18" gradientUnits="userSpaceOnUse" x1="618.12" y1="228.40" x2="617.14" y2="210.85"><stop offset="0" stop-color="#20dfff"/><stop offset="1" stop-color="#40bfff"/></linearGradient>
<polygon points="618.12,228.40 651.42,226.54 651.42,208.94 618.12,210.80" fill="url(#g18)" stroke="#111" stroke-width="0.85" stroke-linejoin="round"/>
<polygon points="609.28,202.46 642.58,200.60 651.42,208.94 618.12,210.80" fill="#40bfff" stroke="#111" stroke-width="0.85" stroke-linejoin="round"/>
<linearGradient id="g19" gradientUnits="userSpaceOnUse" x1="553.78" y1="223.16" x2="614.16" y2="159.09"><stop offset="0" stop-color="#20dfff"/><stop offset="1" stop-color="#ff00ff"/></linearGradient>
<polygon points="553.78,223.16 562.62,231.50 562.62,110.52 553.78,102.18" fill="url(#g19)" stroke="#111" stroke-width="0.85" stroke-linejoin="round"/>
<linearGradient id="g20" gradientUnits="userSpaceOnUse" x1="562.62" y1="231.50" x2="555.89" y2="110.90"><stop offset="0" stop-color="#20dfff"/><stop offset="1" stop-color="#ff00ff"/></linearGradient>
<polygon points="562.62,231.50 595.92,229.64 595.92,108.66 562.62,110.52" fill="url(#g20)" stroke="#111" stroke-width="0.85" stroke-linejoin="round"/>
<polygon points="553.78,102.18 587.08,100.32 595.92,108.66 562.62,110.52" fill="#ff00ff" stroke="#111" stroke-width="0.85" stroke-linejoin="round"/>
<linearGradient id="g21" gradientUnits="userSpaceOnUse" x1="498.28" y1="226.26" x2="536.64" y2="185.54"><stop offset="0" stop-color="#20dfff"/><stop offset="1" stop-color="#ae51ff"/></linearGradient>
<polygon points="498.28,226.26 507.13,234.60 507.13,157.73 498.28,149.39" fill="url(#g21)" stroke="#111" stroke-width="0.85" stroke-linejoin="round"/>
<linearGradient id="g22" gradientUnits="userSpaceOnUse" x1="507.13" y1="234.60" x2="502.84" y2="157.97"><stop offset="0" stop-color="#20dfff"/><stop offset="1" stop-color="#ae51ff"/></linearGradient>
<polygon points="507.13,234.60 540.42,232.74 540.42,155.87 507.13,157.73" fill="url(#g22)" stroke="#111" stroke-width="0.85" stroke-linejoin="round"/>
<polygon points="498.28,149.39 531.58,147.53 540.42,155.87 507.13,157.73" fill="#ae51ff" stroke="#111" stroke-width="0.85" stroke-linejoin="round"/>
<linearGradient id="g23" gradientUnits="userSpaceOnUse" x1="442.78" y1="243.93" x2="450.04" y2="236.21"><stop offset="0" stop-color="#05faff"/><stop offset="1" stop-color="#20dfff"/></linearGradient>
<polygon points="442.78,243.93 451.63,252.27 451.63,237.70 442.78,229.36" fill="url(#g23)" stroke="#111" stroke-width="0.85" stroke-linejoin="round"/>
<linearGradient id="g24" gradientUnits="userSpaceOnUse" x1="451.63" y1="252.27" x2="450.81" y2="237.75"><stop offset="0" stop-color="#05faff"/><stop offset="1" stop-color="#20dfff"/></linearGradient>
<polygon points="451.63,252.27 484.93,250.41 484.93,235.84 451.63,237.70" fill="url(#g24)" stroke="#111" stroke-width="0.85" stroke-linejoin="round"/>
<polygon points="442.78,229.36 476.07,227.50 484.93,235.84 451.63,237.70" fill="#20dfff" stroke="#111" stroke-width="0.85" stroke-linejoin="round"/>
<linearGradient id="g25" gradientUnits="userSpaceOnUse" x1="624.03" y1="233.96" x2="624.63" y2="233.32"><stop offset="0" stop-color="#20dfff"/><stop offset="1" stop-color="#22ddff"/></linearGradient>
<polygon points="624.03,233.96 632.88,242.30 632.88,241.09 624.03,232.75" fill="url(#g25)" stroke="#111" stroke-width="0.85" stroke-linejoin="round"/>
<linearGradient id="g26" gradientUnits="userSpaceOnUse" x1="632.88" y1="242.30" x2="632.81" y2="241.09"><stop offset="0" stop-color="#20dfff"/><stop offset="1" stop-color="#22ddff"/></linearGradient>
<polygon points="632.88,242.30 666.17,240.44 666.17,239.23 632.88,241.09" fill="url(#g26)" stroke="#111" stroke-width="0.85" stroke-linejoin="round"/>
<polygon points="624.03,232.75 657.33,230.89 666.17,239.23 632.88,241.09" fill="#22ddff" stroke="#111" stroke-width="0.85" stroke-linejoin="round"/>
<linearGradient id="g27" gradientUnits="userSpaceOnUse" x1="568.53" y1="237.06" x2="577.31" y2="227.74"><stop offset="0" stop-color="#20dfff"/><stop offset="1" stop-color="#40bfff"/></linearGradient>
<polygon points="568.53,237.06 577.38,245.40 577.38,227.80 568.53,219.46" fill="url(#g27)" stroke="#111" stroke-width="0.85" stroke-linejoin="round"/>
<linearGradient id="g28" gradientUnits="userSpaceOnUse" x1="577.38" y1="245.40" x2="576.39" y2="227.85"><stop offset="0" stop-color="#20dfff"/><stop offset="1" stop-color="#40bfff"/></linearGradient>
<polygon points="577.38,245.40 610.67,243.54 610.67,225.94 577.38,227.80" fill="url(#g28)" stroke="#111" stroke-width="0.85" stroke-linejoin="round"/>
<polygon points="568.53,219.46 601.83,217.60 610.67,225.94 577.38,227.80" fill="#40bfff" stroke="#111" stroke-width="0.85" stroke-linejoin="round"/>
<linearGradient id="g29" gradientUnits="userSpaceOnUse" x1="513.03" y1="240.16" x2="520.70" y2="232.02"><stop offset="0" stop-color="#20dfff"/><stop offset="1" stop-color="#3cc3ff"/></linearGradient>
<polygon points="513.03,240.16 521.88,248.50 521.88,233.13 513.03,224.79" fill="url(#g29)" stroke="#111" stroke-width="0.85" stroke-linejoin="round"/>
<linearGradient id="g30" gradientUnits="userSpaceOnUse" x1="521.88" y1="248.50" x2="521.02" y2="233.17"><stop offset="0" stop-color="#20dfff"/><stop offset="1" stop-color="#3cc3ff"/></linearGradient>
<polygon points="521.88,248.50 555.17,246.64 555.17,231.27 521.88,233.13" fill="url(#g30)" stroke="#111" stroke-width="0.85" stroke-linejoin="round"/>
<polygon points="513.03,224.79 546.33,222.93 555.17,231.27 521.88,233.13" fill="#3cc3ff" stroke="#111" stroke-width="0.85" stroke-linejoin="round"/>
<linearGradient id="g31" gradientUnits="userSpaceOnUse" x1="457.53" y1="244.07" x2="457.93" y2="243.64"><stop offset="0" stop-color="#1ee1ff"/><stop offset="1" stop-color="#20dfff"/></linearGradient>
<polygon points="457.53,244.07 466.38,252.41 466.38,251.60 457.53,243.26" fill="url(#g31)" stroke="#111" stroke-width="0.85" stroke-linejoin="round"/>
<linearGradient id="g32" gradientUnits="userSpaceOnUse" x1="466.38" y1="252.41" x2="466.33" y2="251.60"><stop offset="0" stop-color="#1ee1ff"/><stop offset="1" stop-color="#20dfff"/></linearGradient>
<polygon points="466.38,252.41 499.68,250.55 499.68,249.74 466.38,251.60" fill="url(#g32)" stroke="#111" stroke-width="0.85" stroke-linejoin="round"/>
<polygon points="457.53,243.26 490.82,241.40 499.68,249.74 466.38,251.60" fill="#20dfff" stroke="#111" stroke-width="0.85" stroke-linejoin="round"/>
<text x="389.20" y="71.56" font-size="18.5" text-anchor="end">0.6</text>
<text x="389.20" y="111.72" font-size="18.5" text-anchor="end">0.4</text>
<text x="389.20" y="152.28" font-size="18.5" text-anchor="end">0.2</text>
<text x="389.20" y="192.04" font-size="18.5" text-anchor="end">0</text>
<path d="M416.40,514.74L416.40,334.90M416.40,514.74L490.15,584.24M471.90,511.64L471.90,331.80M471.90,511.64L545.65,581.14M527.40,508.54L527.40,328.70M527.40,508.54L601.15,578.04M582.90,505.44L582.90,325.60M582.90,505.44L656.65,574.94M619.85,518.10L619.85,338.26M408.95,529.88L619.85,518.10M634.60,532.00L634.60,352.16M423.70,543.78L634.60,532.00M649.35,545.90L649.35,366.06M438.45,557.68L649.35,545.90M664.10,559.80L664.10,379.96M453.20,571.58L664.10,559.80M394.20,476.94L605.10,465.16M605.10,465.16L678.85,534.66M394.20,436.48L605.10,424.70M605.10,424.70L678.85,494.20M394.20,396.02L605.10,384.24M605.10,384.24L678.85,453.74M394.20,355.56L605.10,343.78M605.10,343.78L678.85,413.28M394.20,515.98L605.10,504.20M605.10,504.20L678.85,573.70" stroke="#d6d6d6" stroke-width="0.8" fill="none"/>
<path d="M394.20,515.98L394.20,336.14M394.20,515.98L467.95,585.48M467.95,585.48L678.85,573.70M394.20,476.94l-3.4,-3.0M394.20,436.48l-3.4,-3.0M394.20,396.02l-3.4,-3.0M394.20,355.56l-3.4,-3.0M408.95,529.88h-5M423.70,543.78h-5M438.45,557.68h-5M453.20,571.58h-5M394.20,515.98l-3.5,-2.5M490.15,584.24l3.5,3.3M545.65,581.14l3.5,3.3M601.15,578.04l3.5,3.3M656.65,574.94l3.5,3.3" stroke="#333" stroke-width="1" fill="none"/>
<linearGradient id="g33" gradientUnits="userSpaceOnUse" x1="576.58" y1="476.46" x2="579.91" y2="472.92"><stop offset="0" stop-color="#8080ff"/><stop offset="1" stop-color="#a956ff"/></linearGradient>
<polygon points="576.58,476.46 585.42,484.80 585.42,478.12 576.58,469.78" fill="url(#g33)" stroke="#111" stroke-width="0.85" stroke-linejoin="round"/>
<linearGradient id="g34" gradientUnits="userSpaceOnUse" x1="585.42" y1="484.80" x2="585.05" y2="478.14"><stop offset="0" stop-color="#8080ff"/><stop offset="1" stop-color="#a956ff"/></linearGradient>
<polygon points="585.42,484.80 618.72,482.94 618.72,476.26 585.42,478.12" fill="url(#g34)" stroke="#111" stroke-width="0.85" stroke-linejoin="round"/>
<polygon points="576.58,469.78 609.88,467.92 618.72,476.26 585.42,478.12" fill="#a956ff" stroke="#111" stroke-width="0.85" stroke-linejoin="round"/>
<linearGradient id="g35" gradientUnits="userSpaceOnUse" x1="521.08" y1="482.39" x2="522.49" y2="480.89"><stop offset="0" stop-color="#6e91ff"/><stop offset="1" stop-color="#8080ff"/></linearGradient>
<polygon points="521.08,482.39 529.92,490.73 529.92,487.90 521.08,479.56" fill="url(#g35)" stroke="#111" stroke-width="0.85" stroke-linejoin="round"/>
<linearGradient id="g36" gradientUnits="userSpaceOnUse" x1="529.92" y1="490.73" x2="529.77" y2="487.91"><stop offset="0" stop-color="#6e91ff"/><stop offset="1" stop-color="#8080ff"/></linearGradient>
<polygon points="529.92,490.73 563.22,488.87 563.22,486.04 529.92,487.90" fill="url(#g36)" stroke="#111" stroke-width="0.85" stroke-linejoin="round"/>
<polygon points="521.08,479.56 554.38,477.70 563.22,486.04 529.92,487.90" fill="#8080ff" stroke="#111" stroke-width="0.85" stroke-linejoin="round"/>
<linearGradient id="g37" gradientUnits="userSpaceOnUse" x1="465.58" y1="494.19" x2="471.33" y2="488.08"><stop offset="0" stop-color="#38c7ff"/><stop offset="1" stop-color="#8080ff"/></linearGradient>
<polygon points="465.58,494.19 474.43,502.53 474.43,491.00 465.58,482.66" fill="url(#g37)" stroke="#111" stroke-width="0.85" stroke-linejoin="round"/>
<linearGradient id="g38" gradientUnits="userSpaceOnUse" x1="474.43" y1="502.53" x2="473.78" y2="491.04"><stop offset="0" stop-color="#38c7ff"/><stop offset="1" stop-color="#8080ff"/></linearGradient>
<polygon points="474.43,502.53 507.73,500.67 507.73,489.14 474.43,491.00" fill="url(#g38)" stroke="#111" stroke-width="0.85" stroke-linejoin="round"/>
<polygon points="465.58,482.66 498.88,480.80 507.73,489.14 474.43,491.00" fill="#8080ff" stroke="#111" stroke-width="0.85" stroke-linejoin="round"/>
<polygon points="410.08,485.76 443.38,483.90 452.23,492.24 418.93,494.10" fill="#8080ff" stroke="#111" stroke-width="0.85" stroke-linejoin="round"/>
<linearGradient id="g39" gradientUnits="userSpaceOnUse" x1="591.33" y1="490.36" x2="594.66" y2="486.82"><stop offset="0" stop-color="#8080ff"/><stop offset="1" stop-color="#a956ff"/></linearGradient>
<polygon points="591.33,490.36 600.17,498.70 600.17,492.02 591.33,483.68" fill="url(#g39)" stroke="#111" stroke-width="0.85" stroke-linejoin="round"/>
<linearGradient id="g40" gradientUnits="userSpaceOnUse" x1="600.17" y1="498.70" x2="599.80" y2="492.04"><stop offset="0" stop-color="#8080ff"/><stop offset="1" stop-color="#a956ff"/></linearGradient>
<polygon points="600.17,498.70 633.47,496.84 633.47,490.16 600.17,492.02" fill="url(#g40)" stroke="#111" stroke-width="0.85" stroke-linejoin="round"/>
<polygon points="591.33,483.68 624.62,481.82 633.47,490.16 600.17,492.02" fill="#a956ff" stroke="#111" stroke-width="0.85" stroke-linejoin="round"/>
<linearGradient id="g41" gradientUnits="userSpaceOnUse" x1="535.83" y1="514.09" x2="546.12" y2="503.17"><stop offset="0" stop-color="#00ffff"/><stop offset="1" stop-color="#8080ff"/></linearGradient>
<polygon points="535.83,514.09 544.67,522.43 544.67,501.80 535.83,493.46" fill="url(#g41)" stroke="#111" stroke-width="0.85" stroke-linejoin="round"/>
<linearGradient id="g42" gradientUnits="userSpaceOnUse" x1="544.67" y1="522.43" x2="543.53" y2="501.86"><stop offset="0" stop-color="#00ffff"/><stop offset="1" stop-color="#8080ff"/></linearGradient>
<polygon points="544.67,522.43 577.97,520.57 577.97,499.94 544.67,501.80" fill="url(#g42)" stroke="#111" stroke-width="0.85" stroke-linejoin="round"/>
<polygon points="535.83,493.46 569.12,491.60 577.97,499.94 544.67,501.80" fill="#8080ff" stroke="#111" stroke-width="0.85" stroke-linejoin="round"/>
<polygon points="480.33,496.56 513.62,494.70 522.47,503.04 489.18,504.90" fill="#8080ff" stroke="#111" stroke-width="0.85" stroke-linejoin="round"/>
<linearGradient id="g43" gradientUnits="userSpaceOnUse" x1="424.83" y1="499.66" x2="430.58" y2="493.55"><stop offset="0" stop-color="#8080ff"/><stop offset="1" stop-color="#c738ff"/></linearGradient>
<polygon points="424.83,499.66 433.68,508.00 433.68,496.47 424.83,488.13" fill="url(#g43)" stroke="#111" stroke-width="0.85" stroke-linejoin="round"/>
<linearGradient id="g44" gradientUnits="userSpaceOnUse" x1="433.68" y1="508.00" x2="433.03" y2="496.50"><stop offset="0" stop-color="#8080ff"/><stop offset="1" stop-color="#c738ff"/></linearGradient>
<polygon points="433.68,508.00 466.98,506.14 466.98,494.61 433.68,496.47" fill="url(#g44)" stroke="#111" stroke-width="0.85" stroke-linejoin="round"/>
<polygon points="424.83,488.13 458.12,486.27 466.98,494.61 433.68,496.47" fill="#c738ff" stroke="#111" stroke-width="0.85" stroke-linejoin="round"/>
<linearGradient id="g45" gradientUnits="userSpaceOnUse" x1="606.08" y1="504.26" x2="607.29" y2="502.97"><stop offset="0" stop-color="#8080ff"/><stop offset="1" stop-color="#8e70ff"/></linearGradient>
<polygon points="606.08,504.26 614.92,512.60 614.92,510.17 606.08,501.83" fill="url(#g45)" stroke="#111" stroke-width="0.85" stroke-linejoin="round"/>
<linearGradient id="g46" gradientUnits="userSpaceOnUse" x1="614.92" y1="512.60" x2="614.79" y2="510.18"><stop offset="0" stop-color="#8080ff"/><stop offset="1" stop-color="#8e70ff"/></linearGradient>
<polygon points="614.92,512.60 648.22,510.74 648.22,508.31 614.92,510.17" fill="url(#g46)" stroke="#111" stroke-width="0.85" stroke-linejoin="round"/>
<polygon points="606.08,501.83 639.38,499.97 648.22,508.31 614.92,510.17" fill="#8e70ff" stroke="#111" stroke-width="0.85" stroke-linejoin="round"/>
<polygon points="550.58,507.36 583.88,505.50 592.72,513.84 559.42,515.70" fill="#8080ff" stroke="#111" stroke-width="0.85" stroke-linejoin="round"/>
<linearGradient id="g47" gradientUnits="userSpaceOnUse" x1="495.08" y1="510.46" x2="505.37" y2="499.53"><stop offset="0" stop-color="#8080ff"/><stop offset="1" stop-color="#ff00ff"/></linearGradient>
<polygon points="495.08,510.46 503.93,518.80 503.93,498.17 495.08,489.83" fill="url(#g47)" stroke="#111" stroke-width="0.85" stroke-linejoin="round"/>
<linearGradient id="g48" gradientUnits="userSpaceOnUse" x1="503.93" y1="518.80" x2="502.78" y2="498.23"><stop offset="0" stop-color="#8080ff"/><stop offset="1" stop-color="#ff00ff"/></linearGradient>
<polygon points="503.93,518.80 537.22,516.94 537.22,496.31 503.93,498.17" fill="url(#g48)" stroke="#111" stroke-width="0.85" stroke-linejoin="round"/>
<polygon points="495.08,489.83 528.38,487.97 537.22,496.31 503.93,498.17" fill="#ff00ff" stroke="#111" stroke-width="0.85" stroke-linejoin="round"/>
<linearGradient id="g49" gradientUnits="userSpaceOnUse" x1="439.58" y1="513.56" x2="440.99" y2="512.06"><stop offset="0" stop-color="#8080ff"/><stop offset="1" stop-color="#916eff"/></linearGradient>
<polygon points="439.58,513.56 448.43,521.90 448.43,519.07 439.58,510.73" fill="url(#g49)" stroke="#111" stroke-width="0.85" stroke-linejoin="round"/>
<linearGradient id="g50" gradientUnits="userSpaceOnUse" x1="448.43" y1="521.90" x2="448.27" y2="519.08"><stop offset="0" stop-color="#8080ff"/><stop offset="1" stop-color="#916eff"/></linearGradient>
<polygon points="448.43,521.90 481.73,520.04 481.73,517.21 448.43,519.07" fill="url(#g50)" stroke="#111" stroke-width="0.85" stroke-linejoin="round"/>
<polygon points="439.58,510.73 472.88,508.87 481.73,517.21 448.43,519.07" fill="#916eff" stroke="#111" stroke-width="0.85" stroke-linejoin="round"/>
<polygon points="620.83,518.16 654.12,516.30 662.97,524.64 629.67,526.50" fill="#8080ff" stroke="#111" stroke-width="0.85" stroke-linejoin="round"/>
<linearGradient id="g51" gradientUnits="userSpaceOnUse" x1="565.33" y1="523.69" x2="566.54" y2="522.40"><stop offset="0" stop-color="#708eff"/><stop offset="1" stop-color="#8080ff"/></linearGradient>
<polygon points="565.33,523.69 574.17,532.03 574.17,529.60 565.33,521.26" fill="url(#g51)" stroke="#111" stroke-width="0.85" stroke-linejoin="round"/>
<linearGradient id="g52" gradientUnits="userSpaceOnUse" x1="574.17" y1="532.03" x2="574.04" y2="529.61"><stop offset="0" stop-color="#708eff"/><stop offset="1" stop-color="#8080ff"/></linearGradient>
<polygon points="574.17,532.03 607.47,530.17 607.47,527.74 574.17,529.60" fill="url(#g52)" stroke="#111" stroke-width="0.85" stroke-linejoin="round"/>
<polygon points="565.33,521.26 598.62,519.40 607.47,527.74 574.17,529.60" fill="#8080ff" stroke="#111" stroke-width="0.85" stroke-linejoin="round"/>
<linearGradient id="g53" gradientUnits="userSpaceOnUse" x1="509.83" y1="531.04" x2="513.16" y2="527.50"><stop offset="0" stop-color="#56a9ff"/><stop offset="1" stop-color="#8080ff"/></linearGradient>
<polygon points="509.83,531.04 518.67,539.38 518.67,532.70 509.83,524.36" fill="url(#g53)" stroke="#111" stroke-width="0.85" stroke-linejoin="round"/>
<linearGradient id="g54" gradientUnits="userSpaceOnUse" x1="518.67" y1="539.38" x2="518.30" y2="532.72"><stop offset="0" stop-color="#56a9ff"/><stop offset="1" stop-color="#8080ff"/></linearGradient>
<polygon points="518.67,539.38 551.97,537.52 551.97,530.84 518.67,532.70" fill="url(#g54)" stroke="#111" stroke-width="0.85" stroke-linejoin="round"/>
<polygon points="509.83,524.36 543.12,522.50 551.97,530.84 518.67,532.70" fill="#8080ff" stroke="#111" stroke-width="0.85" stroke-linejoin="round"/>
<linearGradient id="g55" gradientUnits="userSpaceOnUse" x1="454.33" y1="534.14" x2="457.66" y2="530.60"><stop offset="0" stop-color="#56a9ff"/><stop offset="1" stop-color="#8080ff"/></linearGradient>
<polygon points="454.33,534.14 463.18,542.48 463.18,535.80 454.33,527.46" fill="url(#g55)" stroke="#111" stroke-width="0.85" stroke-linejoin="round"/>
<linearGradient id="g56" gradientUnits="userSpaceOnUse" x1="463.18" y1="542.48" x2="462.80" y2="535.82"><stop offset="0" stop-color="#56a9ff"/><stop offset="1" stop-color="#8080ff"/></linearGradient>
<polygon points="463.18,542.48 496.48,540.62 496.48,533.94 463.18,535.80" fill="url(#g56)" stroke="#111" stroke-width="0.85" stroke-linejoin="round"/>
<polygon points="454.33,527.46 487.62,525.60 496.48,533.94 463.18,535.80" fill="#8080ff" stroke="#111" stroke-width="0.85" stroke-linejoin="round"/>
<text x="386.00" y="355.76" font-size="18.5" text-anchor="end">0.6</text>
<text x="386.00" y="395.92" font-size="18.5" text-anchor="end">0.4</text>
<text x="386.00" y="436.48" font-size="18.5" text-anchor="end">0.2</text>
<text x="386.00" y="476.24" font-size="18.5" text-anchor="end">0</text>
<text x="394.60" y="244.40" font-size="13.4" text-anchor="end">VV</text>
<text x="394.60" y="533.50" font-size="13.4" text-anchor="end">VV</text>
<text x="409.50" y="261.60" font-size="13.4" text-anchor="end">VH</text>
<text x="409.50" y="550.70" font-size="13.4" text-anchor="end">VH</text>
<text x="427.10" y="279.70" font-size="13.4" text-anchor="end">HV</text>
<text x="427.10" y="568.80" font-size="13.4" text-anchor="end">HV</text>
<text x="444.10" y="297.70" font-size="13.4" text-anchor="end">HH</text>
<text x="444.10" y="586.80" font-size="13.4" text-anchor="end">HH</text>
<text x="498.10" y="317.50" font-size="13.4" text-anchor="middle">VV</text>
<text x="495.50" y="602.00" font-size="13.4" text-anchor="middle">VV</text>
<text x="556.75" y="315.60" font-size="13.4" text-anchor="middle">VH</text>
<text x="554.15" y="600.10" font-size="13.4" text-anchor="middle">VH</text>
<text x="613.25" y="311.20" font-size="13.4" text-anchor="middle">HV</text>
<text x="610.65" y="595.70" font-size="13.4" text-anchor="middle">HV</text>
<text x="661.80" y="308.00" font-size="13.4" text-anchor="middle">HH</text>
<text x="659.20" y="592.50" font-size="13.4" text-anchor="middle">HH</text>
<text x="591.8" y="87.8" font-size="23.6">Re</text>
<path d="M632.60,68.90H628.00V95.00H632.60" fill="none" stroke="#111" stroke-width="1.5"/>
<path d="M662.70,68.90H667.30V95.00H662.70" fill="none" stroke="#111" stroke-width="1.5"/>
<text x="635.8" y="88.0" font-size="23.5" font-style="italic">ρ</text>
<text x="648.3" y="94.0" font-size="13.2">E</text>
<text x="590.0" y="375.0" font-size="23.6">Im</text>
<path d="M626.40,356.20H621.80V381.80H626.40" fill="none" stroke="#111" stroke-width="1.5"/>
<path d="M655.60,356.20H660.20V381.80H655.60" fill="none" stroke="#111" stroke-width="1.5"/>
<text x="629.4" y="375.2" font-size="23.5" font-style="italic">ρ</text>
<text x="642.2" y="380.8" font-size="13.2">E</text>
<text x="350.3" y="23.3" font-size="28.5" font-weight="bold" stroke="#000" stroke-width="1.1" transform="translate(350,0) scale(1.1,1) translate(-350,0)">d</text>
</svg></body></html>
